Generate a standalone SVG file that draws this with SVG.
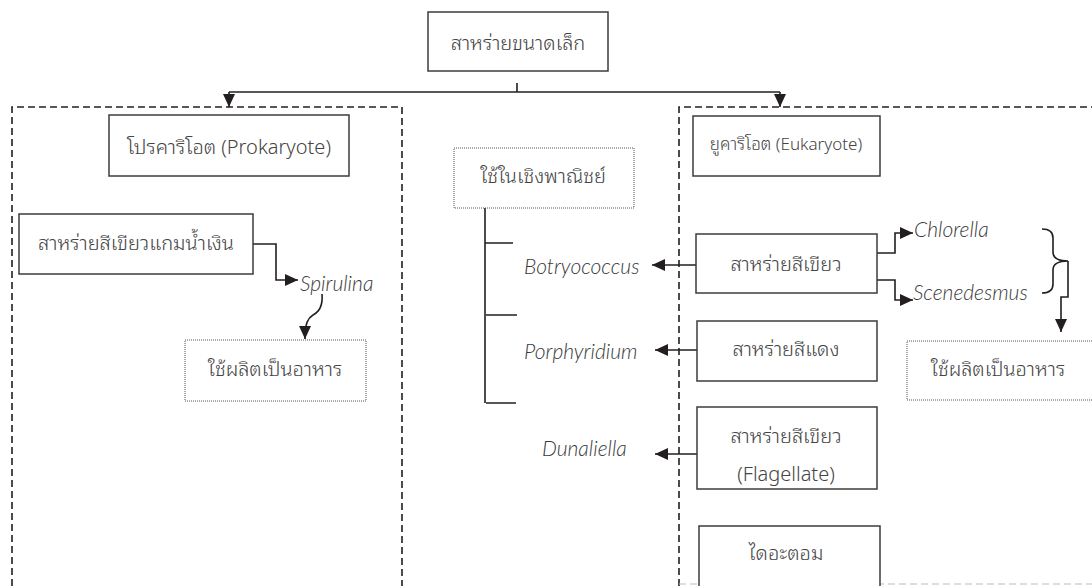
<svg xmlns="http://www.w3.org/2000/svg" width="1092" height="586" viewBox="0 0 1092 586">
<defs>
<marker id="ah" viewBox="0 0 13 12" refX="13" refY="6" markerWidth="13" markerHeight="12" markerUnits="userSpaceOnUse" orient="auto">
<path d="M0 0 L13 6 L0 12 Z" fill="#231f20"/>
</marker>
<style>
.bg{fill:#ffffff}
.box{fill:#ffffff;stroke:#3c3c3c;stroke-width:1.5}
.dot{fill:#ffffff;stroke:#555555;stroke-width:1;stroke-dasharray:1 1}
.dash{fill:none;stroke:#231f20;stroke-width:1.6;stroke-dasharray:7 4}
.dashl{fill:none;stroke:#bdbdbd;stroke-width:1.2;stroke-dasharray:7 4}
.ln{fill:none;stroke:#231f20;stroke-width:1.6}
.arr{fill:none;stroke:#231f20;stroke-width:1.6;marker-end:url(#ah)}
.t{font-family:"Noto Sans","Noto Sans Thai Looped","Loma","Garuda","DejaVu Sans",sans-serif;font-size:20px;font-weight:300;fill:#444444;text-anchor:middle;dominant-baseline:central}
.ts{font-size:17px}
.i{font-family:Lato,"Open Sans",sans-serif;font-style:italic;font-weight:300;font-size:21px;fill:#3a3a3a;dominant-baseline:central}
</style>
</defs>
<rect class="bg" x="0" y="0" width="1092" height="586"/>

<g id="regions">
<path class="dash" d="M12 586 V107 H402 V586"/>
<path class="dash" d="M679 586 V107 H1092"/>
<path class="dashl" d="M679 584 H1092"/>
</g>

<g id="connectors">
<path class="ln" d="M517 83 V92"/>
<path class="ln" d="M229 92 H780"/>
<path class="arr" d="M229 92 V107"/>
<path class="arr" d="M780 92 V107"/>
<path class="arr" d="M253 244 H276 V280 H298"/>
<path class="arr" d="M322 294 C323 306 319 312 313 315 C308 318 305 323 305 339"/>
<path class="ln" d="M485 197 V403 M485 243 H513 M486 315 H517 M486 403 H516"/>
<path class="arr" d="M696 265 H652"/>
<path class="arr" d="M697 350 H655"/>
<path class="arr" d="M697 454 H655"/>
<path class="arr" d="M877 253 H895 V233 H913"/>
<path class="arr" d="M877 280 H895 V300 H913"/>
<path class="ln" d="M1042 229 C1050 229 1053 232 1053 238 V252 C1053 258 1058 261 1068 261 C1058 261 1053 264 1053 270 V284 C1053 290 1050 293 1042 293"/>
<path class="arr" d="M1068 261 V297 H1061 V332"/>
</g>

<g id="n-root">
<rect class="box" x="428" y="12" width="180" height="59"/>
<text class="t" x="518" y="42">สาหร่ายขนาดเล็ก</text>
</g>

<g id="n-prokaryote">
<rect class="box" x="109" y="115" width="240" height="61"/>
<text class="t" x="229" y="146">โปรคาริโอต (Prokaryote)</text>
</g>

<g id="n-bluegreen">
<rect class="box" x="19" y="214" width="234" height="60"/>
<text class="t" x="136" y="242">สาหร่ายสีเขียวแกมน้ำเงิน</text>
</g>

<g id="n-spirulina">
<text class="i" x="300" y="282">Spirulina</text>
</g>

<g id="n-food-left">
<rect class="dot" x="185" y="340" width="181" height="61"/>
<text class="t" x="275" y="368">ใช้ผลิตเป็นอาหาร</text>
</g>

<g id="n-commercial">
<rect class="dot" x="454" y="148" width="180" height="60"/>
<text class="t" x="543" y="175">ใช้ในเชิงพาณิชย์</text>
</g>

<g id="n-botryococcus">
<text class="i" x="524" y="265">Botryococcus</text>
</g>
<g id="n-porphyridium">
<text class="i" x="524" y="350">Porphyridium</text>
</g>
<g id="n-dunaliella">
<text class="i" x="542" y="447">Dunaliella</text>
</g>

<g id="n-eukaryote">
<rect class="box" x="693" y="116" width="187" height="60"/>
<text class="t ts" x="786" y="143">ยูคาริโอต (Eukaryote)</text>
</g>

<g id="n-green">
<rect class="box" x="696" y="234" width="181" height="59"/>
<text class="t" x="786" y="263">สาหร่ายสีเขียว</text>
</g>

<g id="n-chlorella">
<text class="i" x="914" y="228">Chlorella</text>
</g>
<g id="n-scenedesmus">
<text class="i" x="913" y="291">Scenedesmus</text>
</g>

<g id="n-food-right">
<rect class="dot" x="907" y="341" width="190" height="59"/>
<text class="t" x="998" y="368">ใช้ผลิตเป็นอาหาร</text>
</g>

<g id="n-red">
<rect class="box" x="697" y="321" width="180" height="60"/>
<text class="t" x="786" y="348">สาหร่ายสีแดง</text>
</g>

<g id="n-flagellate">
<rect class="box" x="697" y="407" width="180" height="82"/>
<text class="t" x="786" y="435">สาหร่ายสีเขียว</text>
<text class="t" x="786" y="473">(Flagellate)</text>
</g>

<g id="n-diatom">
<rect class="box" x="699" y="526" width="181" height="70"/>
<text class="t" x="786" y="552">ไดอะตอม</text>
</g>
</svg>
